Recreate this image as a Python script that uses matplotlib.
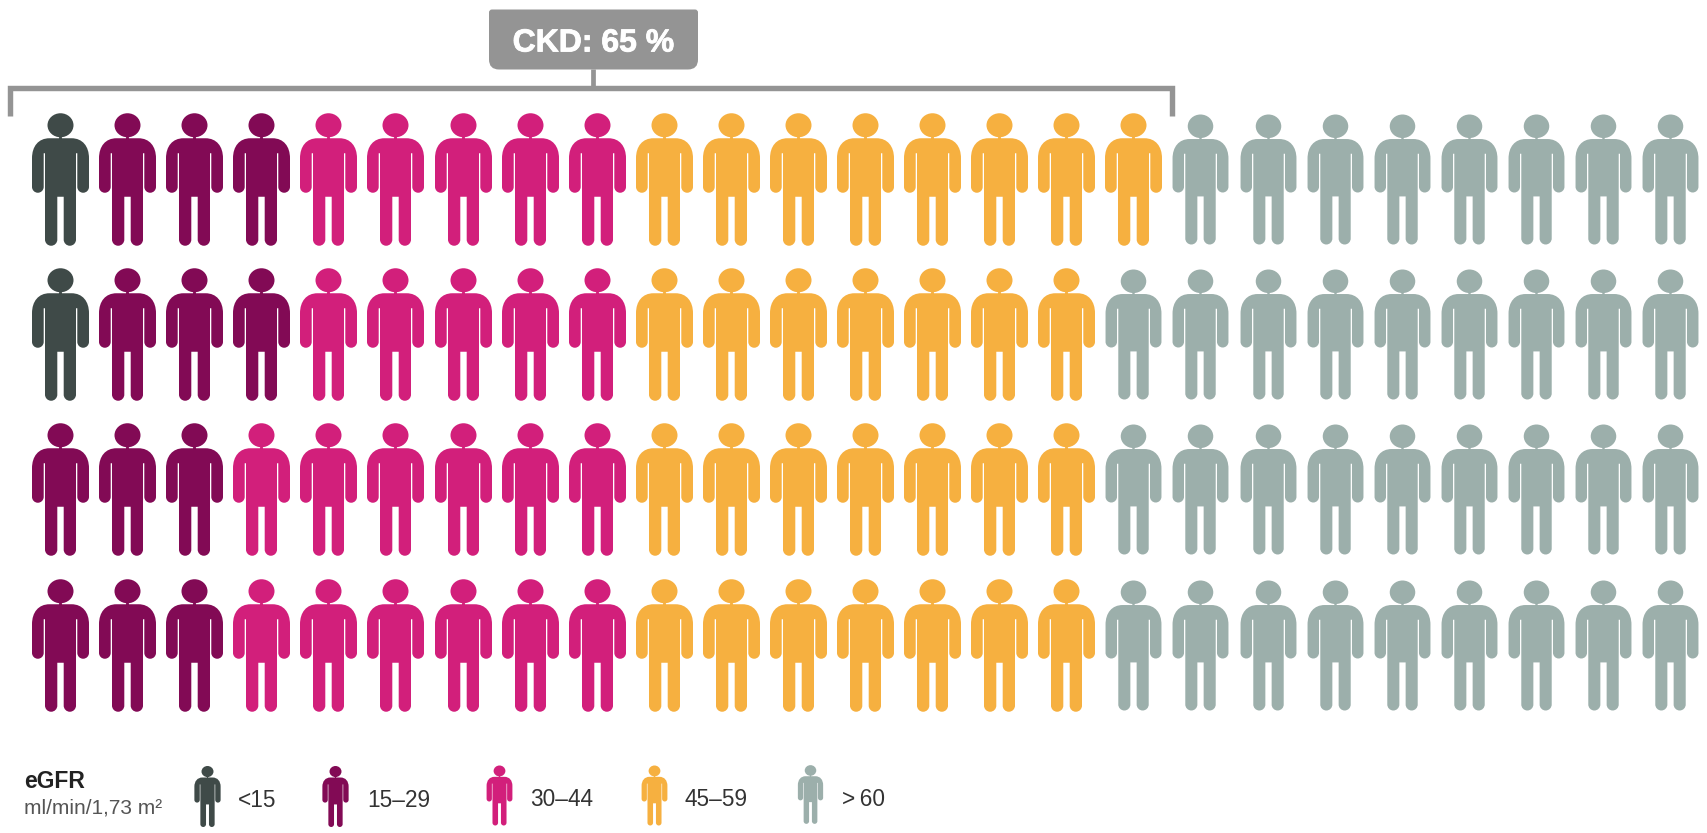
import matplotlib
matplotlib.use('Agg')
import matplotlib.pyplot as plt
import matplotlib.patheffects as pe
import numpy as np
from matplotlib.path import Path
from matplotlib.patches import PathPatch
from matplotlib.markers import MarkerStyle

plt.rcParams['font.family'] = ['Liberation Sans', 'DejaVu Sans']

# data
categories = ['<15', '15–29', '30–44', '45–59', '>\u200960']
colors = ['#3f4a48', '#820a55', '#d21f7b', '#f6b040', '#9cafab']
row_counts = [
    [1, 3, 5, 8, 8],
    [1, 3, 5, 7, 9],
    [0, 3, 6, 7, 9],
    [0, 3, 6, 7, 9],
]
ckd_label = 'CKD: 65 %'
legend_title = 'eGFR'
legend_unit = 'ml/min/1,73 m²'

W, H = 1708, 833
K = 0.5523


def person_path():
    # pictogram in pixels, y up, centred on the middle of the figure
    h = 132.5
    verts = []
    codes = []

    def move(x, y):
        verts.append((x, y))
        codes.append(Path.MOVETO)

    def line(x, y):
        verts.append((x, y))
        codes.append(Path.LINETO)

    def curve(p1, p2, p3):
        verts.extend([p1, p2, p3])
        codes.extend([Path.CURVE4] * 3)

    # head, a little wider than tall
    rx = 13.0
    ry = 12.0
    cy = 12.0
    move(0, cy - ry)
    curve((rx * K, cy - ry), (rx, cy - ry * K), (rx, cy))
    curve((rx, cy + ry * K), (rx * K, cy + ry), (0, cy + ry))
    curve((-rx * K, cy + ry), (-rx, cy + ry * K), (-rx, cy))
    curve((-rx, cy - ry * K), (-rx * K, cy - ry), (0, cy - ry))
    verts.append((0, cy - ry))
    codes.append(Path.CLOSEPOLY)

    # body, right side then left side
    arm_out, arm_in, torso, leg_in = 28.5, 16.8, 15.5, 3.2
    top, arm_top, arm_end, crotch = 25.0, 40.0, 79.5, 83.5
    sh = 45.0
    ar = (arm_out - arm_in) / 2
    lr = (torso - leg_in) / 2
    move(-11, top)
    line(11, top)
    curve((22, top), (arm_out, top + 8), (arm_out, sh))
    line(arm_out, arm_end - ar)
    curve((arm_out, arm_end - ar + ar * K), (arm_in + ar + ar * K, arm_end), (arm_in + ar, arm_end))
    curve((arm_in + ar - ar * K, arm_end), (arm_in, arm_end - ar + ar * K), (arm_in, arm_end - ar))
    line(arm_in, arm_top)
    line(torso, arm_top)
    line(torso, h - lr)
    curve((torso, h - lr + lr * K), (leg_in + lr + lr * K, h), (leg_in + lr, h))
    curve((leg_in + lr - lr * K, h), (leg_in, h - lr + lr * K), (leg_in, h - lr))
    line(leg_in, crotch)
    line(-leg_in, crotch)
    line(-leg_in, h - lr)
    curve((-leg_in, h - lr + lr * K), (-leg_in - lr + lr * K, h), (-leg_in - lr, h))
    curve((-leg_in - lr - lr * K, h), (-torso, h - lr + lr * K), (-torso, h - lr))
    line(-torso, arm_top)
    line(-arm_in, arm_top)
    line(-arm_in, arm_end - ar)
    curve((-arm_in, arm_end - ar + ar * K), (-arm_in - ar + ar * K, arm_end), (-arm_in - ar, arm_end))
    curve((-arm_in - ar - ar * K, arm_end), (-arm_out, arm_end - ar + ar * K), (-arm_out, arm_end - ar))
    line(-arm_out, sh)
    curve((-arm_out, top + 8), (-22, top), (-11, top))
    verts.append((-11, top))
    codes.append(Path.CLOSEPOLY)

    # neck
    move(-1.2, 23)
    line(1.2, 23)
    line(1.2, 26)
    line(-1.2, 26)
    verts.append((-1.2, 23))
    codes.append(Path.CLOSEPOLY)

    verts = np.array(verts, dtype=float)
    verts[:, 1] = h / 2 - verts[:, 1]
    return Path(verts, codes)


def size_for(height_px):
    # scatter size that makes the marker height_px tall at dpi 100
    return (height_px * 0.72) ** 2


person = MarkerStyle(person_path())

fig = plt.figure(figsize=(W / 100, H / 100), dpi=100, facecolor='white')

# grid of people: x = column, y = row
ax = fig.add_axes([60 / W, 1 - 644.5 / H, 1610 / W, 465.5 / H])
ax.set_xlim(0, 24)
ax.set_ylim(3, 0)
ax.axis('off')
for row, counts in enumerate(row_counts):
    col = 0
    for i, n in enumerate(counts):
        xs = np.arange(col, col + n)
        size = size_for(130 if i == 4 else 132.5)
        ax.scatter(xs, [row] * n, marker=person, s=size, color=colors[i],
                   linewidths=0, clip_on=False)
        col += n

# bracket, box and legend in pixel coordinates
ax2 = fig.add_axes([0, 0, 1, 1])
ax2.set_xlim(0, W)
ax2.set_ylim(H, 0)
ax2.axis('off')

grey = '#949494'
ax2.plot([10.5, 10.5, 1172, 1172], [116, 88, 88, 116], color=grey, lw=3.9,
         solid_joinstyle='miter', solid_capstyle='butt')
ax2.plot([593, 593], [69, 88], color=grey, lw=3.4, solid_capstyle='butt')

bx0, bx1, by0, by1 = 489, 698, 9.5, 69.5
box = Path(
    [(bx0 + 3, by0), (bx1 - 3, by0), (bx1, by0), (bx1, by0 + 3),
     (bx1, by1 - 10), (bx1, by1), (bx1 - 10, by1),
     (bx0 + 10, by1), (bx0, by1), (bx0, by1 - 10),
     (bx0, by0 + 3), (bx0, by0), (bx0 + 3, by0), (bx0 + 3, by0)],
    [Path.MOVETO, Path.LINETO, Path.CURVE3, Path.CURVE3,
     Path.LINETO, Path.CURVE3, Path.CURVE3,
     Path.LINETO, Path.CURVE3, Path.CURVE3,
     Path.LINETO, Path.CURVE3, Path.CURVE3, Path.CLOSEPOLY])
ax2.add_patch(PathPatch(box, facecolor=grey, edgecolor='none'))
ax2.text(593.5, 51.5, ckd_label, color='white', fontsize=23, fontweight='bold',
         ha='center', va='baseline',
         path_effects=[pe.withStroke(linewidth=0.6, foreground='white')])

ax2.text(24, 788, legend_title, color='#222222', fontsize=16.5, fontweight='bold', va='baseline')
ax2.text(24, 814, legend_unit, color='#555555', fontsize=15, va='baseline')

legend_x = [206.7, 335, 499, 654, 810.3]
legend_y = [796.2, 796.2, 795, 795, 793.7]
legend_h = [61, 61, 60, 60, 58.7]
text_x = [238, 367, 530, 685, 842]
text_y = [806.7, 806.7, 806, 806, 806]
for i, cat in enumerate(categories):
    ax2.scatter([legend_x[i]], [legend_y[i]], marker=person, s=size_for(legend_h[i]),
                color=colors[i], linewidths=0)
    ax2.text(text_x[i], text_y[i], cat, color='#333333', fontsize=16.3, va='baseline')

fig.savefig('out.png', dpi=100, facecolor='white')
